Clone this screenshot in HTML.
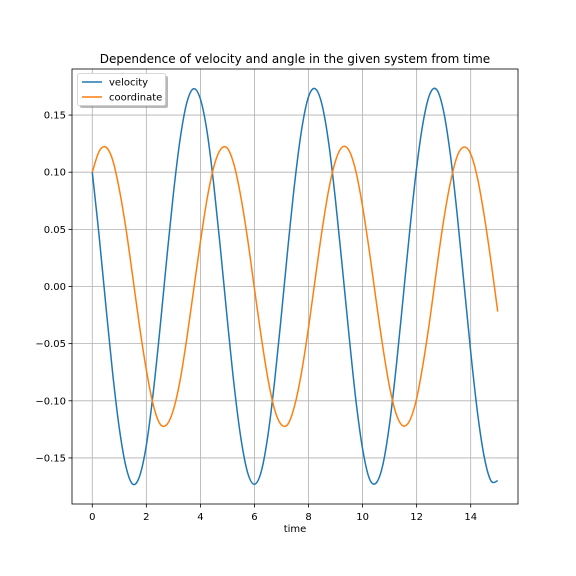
<!DOCTYPE html>
<html><head><meta charset="utf-8"><style>
body{margin:0;background:#fff;}
svg{display:block;font-family:"DejaVu Sans","Liberation Sans",sans-serif;}
</style></head><body>
<svg id="chart" width="576" height="576" viewBox="0 0 576 576">
<rect x="0" y="0" width="576" height="576" fill="#fff"/>
<g id="grid"></g>
<g id="series"></g>
<rect x="72" y="69" width="446" height="435" fill="none" stroke="#000" stroke-width="0.8"/>
<g id="ticks"></g>
<text x="295" y="63" font-size="12" text-anchor="middle">Dependence of velocity and angle in the given system from time</text>
<text x="295" y="532" font-size="10" text-anchor="middle">time</text>
<g>
<rect x="80" y="76" width="88" height="32" rx="2" fill="#888" opacity="0.6"/>
<rect x="77.5" y="73.5" width="88" height="32" rx="2" fill="#fff" stroke="#ccc" stroke-width="0.8"/>
<line x1="82" y1="82" x2="102" y2="82" stroke="#1f77b4" stroke-width="1.5"/>
<text x="109" y="85.5" font-size="10">velocity</text>
<line x1="82" y1="97" x2="102" y2="97" stroke="#ff7f0e" stroke-width="1.5"/>
<text x="109" y="100.5" font-size="10">coordinate</text>
</g>
</svg>
<script>
const tStep = 0.25;
const velocity = [.100,.045,-.016,-.075,-.124,-.158,-.173,-.166,-.139,-.094,-.038,.023,.081,.129,.161,.173,.164,.135,.088,.031,-.030,-.087,-.133,-.163,-.173,-.162,-.130,-.082,-.024,.037,.093,.138,.166,.173,.159,.125,.075,.017,-.043,-.099,-.142,-.168,-.172,-.156,-.120,-.069,-.010,.050,.104,.145,.169,.172,.153,.115,.063,.003,-.057,-.110,-.149,-.170,-.170];
const coordinate = [.100,.118,.122,.111,.085,.050,.008,-.035,-.073,-.103,-.120,-.121,-.108,-.082,-.045,-.003,.039,.077,.105,.120,.121,.106,.078,.041,-.002,-.044,-.081,-.108,-.121,-.120,-.103,-.074,-.036,.007,.049,.085,.110,.122,.119,.101,.070,.031,-.012,-.053,-.088,-.112,-.122,-.117,-.098,-.066,-.027,.017,.058,.091,.114,.122,.116,.095,.062,.022,-.022];
const xTicks = [0,2,4,6,8,10,12,14];
const yTicks = [-0.15,-0.10,-0.05,0.00,0.05,0.10,0.15];
const yTickLabels = ["−0.15","−0.10","−0.05","0.00","0.05","0.10","0.15"];

const L=72,R=518,T=69,B=504;
const xMin=-0.75,xMax=15.75,yMin=-0.1903,yMax=0.1903;
const xs=v=>L+(v-xMin)/(xMax-xMin)*(R-L);
const ys=v=>B-(v-yMin)/(yMax-yMin)*(B-T);
const NS="http://www.w3.org/2000/svg";
const grid=document.getElementById('grid'),ticks=document.getElementById('ticks'),series=document.getElementById('series');
function mk(tag,attrs,parent){const e=document.createElementNS(NS,tag);for(const k in attrs)e.setAttribute(k,attrs[k]);parent.appendChild(e);return e;}
xTicks.forEach(v=>{
 const x=xs(v);
 const g=mk('line',{x1:x,y1:T,x2:x,y2:B,stroke:'#b0b0b0','stroke-width':0.8},grid);
 
 
 const t=mk('line',{x1:x,y1:B,x2:x,y2:B+3.5,stroke:'#000','stroke-width':0.8},ticks);
 
 
 const l=mk('text',{x:x,y:B+16,'font-size':10,'text-anchor':'middle'},ticks);
 l.textContent=String(v);
 
 
});
yTicks.forEach((v,i)=>{
 const y=ys(v);
 const g=mk('line',{x1:L,y1:y,x2:R,y2:y,stroke:'#b0b0b0','stroke-width':0.8},grid);
 
 
 const t=mk('line',{x1:L-3.5,y1:y,x2:L,y2:y,stroke:'#000','stroke-width':0.8},ticks);
 
 
 const l=mk('text',{x:L-6,y:y+3.5,'font-size':10,'text-anchor':'end'},ticks);
 l.textContent=yTickLabels[i];
 
 
});
function pathFor(arr){
 const p=arr.map((v,i)=>[xs(i*tStep),ys(v)]);
 let d='M'+p[0][0]+','+p[0][1];
 for(let i=0;i<p.length-1;i++){
  const p0=p[Math.max(0,i-1)],p1=p[i],p2=p[i+1],p3=p[Math.min(p.length-1,i+2)];
  const c1=[p1[0]+(p2[0]-p0[0])/6,p1[1]+(p2[1]-p0[1])/6];
  const c2=[p2[0]-(p3[0]-p1[0])/6,p2[1]-(p3[1]-p1[1])/6];
  d+=' C'+c1[0]+','+c1[1]+' '+c2[0]+','+c2[1]+' '+p2[0]+','+p2[1];
 }
 return d;
}
const pv=mk('path',{d:pathFor(velocity),fill:'none',stroke:'#1f77b4','stroke-width':1.5},series);


const pc=mk('path',{d:pathFor(coordinate),fill:'none',stroke:'#ff7f0e','stroke-width':1.5},series);


</script>
</body></html>
